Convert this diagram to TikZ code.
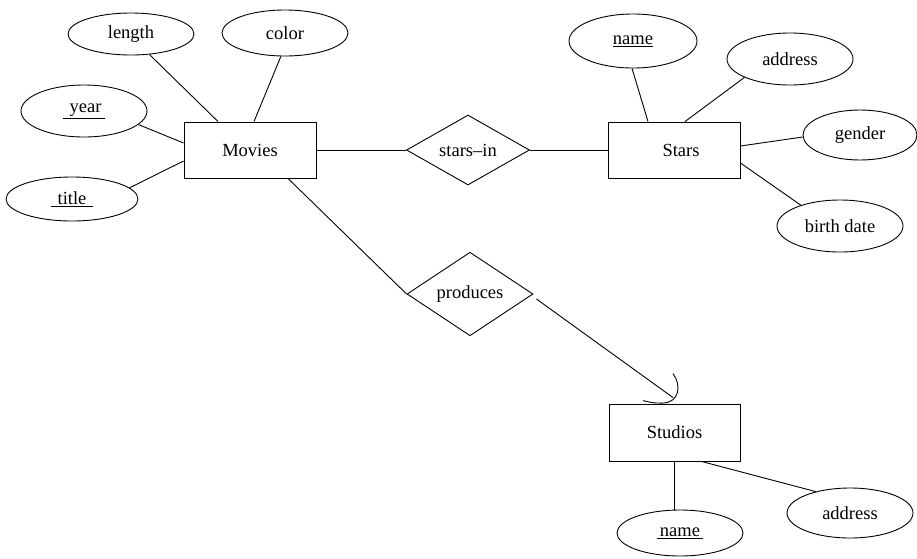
\documentclass[tikz,border=0pt]{standalone}
\usepackage{fontspec}
\setmainfont{Liberation Serif}
\usetikzlibrary{shapes.geometric}
\begin{document}
\begin{tikzpicture}[x=1pt,y=-1pt,
  every node/.style={font=\fontsize{18.5}{22}\selectfont},
  ln/.style={line width=0.9pt},
  ent/.style={draw,line width=0.9pt,rectangle,inner sep=0pt},
  attr/.style={draw,line width=0.9pt,ellipse,inner sep=0pt},
  rel/.style={draw,line width=0.9pt,diamond,inner sep=0pt}]
\useasboundingbox[fill=white] (0,0) rectangle (917,558);
% entities
\node[ent,minimum width=132pt,minimum height=56pt] (Movies) at (250,150) {Movies};
\node[ent,minimum width=132pt,minimum height=56pt] (Stars) at (674,150) {\hspace*{14pt}Stars};
\node[ent,minimum width=131pt,minimum height=57pt] (Studios) at (674.5,432.5) {Studios};
% relationships
\node[rel,minimum width=123pt,minimum height=53pt] (starsin) at (468,150) {stars--in};
\node[rel,minimum width=126pt,minimum height=54pt] (produces) at (470,294) {produces};
% Movies attributes
\node[attr,minimum width=126pt,minimum height=42pt] (length) at (131,34) {length};
\node[attr,minimum width=126pt,minimum height=46pt] (color) at (285,33) {color};
\node[attr,minimum width=126pt,minimum height=52pt] (year) at (84,111) {\underline{\,\,year\,}};
\node[attr,minimum width=132pt,minimum height=44pt] (title) at (72,199) {\underline{\,\,title\,\,}};
% Stars attributes
\node[attr,minimum width=128pt,minimum height=54pt] (sname) at (633,41) {\underline{name}};
\node[attr,minimum width=126pt,minimum height=52pt] (saddress) at (790,59) {address};
\node[attr,minimum width=114pt,minimum height=50pt] (gender) at (860,135) {gender};
\node[attr,minimum width=126pt,minimum height=52pt] (birth) at (840,226) {birth date};
% Studios attributes
\node[attr,minimum width=126pt,minimum height=46pt] (stname) at (680,533) {\underline{\,name\,}};
\node[attr,minimum width=126pt,minimum height=50pt] (staddress) at (850,513) {address};
% connectors
\draw[ln] (length.-48) -- ([xshift=-32pt]Movies.north);
\draw[ln] (color.-100) -- ([xshift=4pt]Movies.north);
\draw[ln] (year.-14) -- ([yshift=7pt]Movies.west);
\draw[ln] (title.11) -- ([yshift=-11pt]Movies.west);
\draw[ln] (sname.-92) -- ([xshift=-26pt]Stars.north);
\draw[ln] (saddress.-158) -- ([xshift=11pt]Stars.north);
\draw[ln] (gender.-178) -- ([yshift=4pt]Stars.east);
\draw[ln] (birth.152) -- ([yshift=-13pt]Stars.east);
\draw[ln] (Movies.east) -- (starsin.west);
\draw[ln] (starsin.east) -- (Stars.west);
\draw[ln] ([xshift=38pt]Movies.south) -- (produces.west);
\coordinate (tip) at ([shift={(-1.5,-6)}]Studios.north);
\draw[ln] ([shift={(3,5)}]produces.east) -- (tip);
\draw[ln,shift={(tip)}] (0,-24) .. controls (9,-12) and (6,5) .. (-10,5.5) .. controls (-20,5.5) .. (-30,3);
\draw[ln] (Studios.south) -- (Studios.south |- stname.north);
\draw[ln] ([xshift=27pt]Studios.south) -- (staddress.148);
\end{tikzpicture}
\end{document}
